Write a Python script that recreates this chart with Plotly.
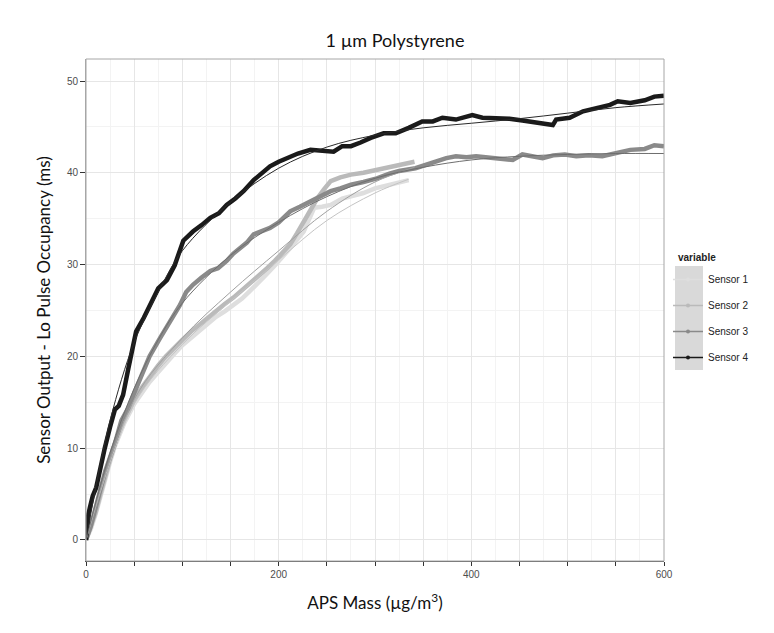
import plotly.graph_objects as go

# ---- data ----
s1_x = [0, 5, 10, 15, 20, 25, 30, 35, 40, 44, 50, 58, 66, 75, 83, 92, 100, 109, 118, 127, 135, 144,
        153, 162, 170, 179, 188, 196, 204, 212, 219, 226, 231, 237, 245, 254, 266, 275, 288, 300,
        312, 325, 335]
s1_y = [0, 1.2, 2.8, 4.8, 6.8, 8.5, 10.2, 11.6, 12.8, 13.6, 14.8, 16.0, 17.2, 18.3, 19.3, 20.3,
        21.2, 22.0, 22.8, 23.6, 24.3, 24.9, 25.6, 26.3, 27.1, 28.0, 29.0, 29.9, 30.8, 31.8, 32.7,
        33.6, 34.8, 36.2, 36.3, 36.5, 37.2, 37.4, 37.8, 38.3, 38.6, 38.9, 39.2]

s2_x = [0, 5, 10, 15, 20, 25, 30, 35, 40, 44, 50, 58, 66, 75, 83, 92, 100, 109, 118, 127, 135, 144,
        153, 162, 170, 179, 188, 196, 204, 212, 219, 226, 233, 240, 247, 254, 264, 275, 288, 302,
        315, 325, 335, 341]
s2_y = [0, 1.5, 3.0, 5.0, 7.0, 8.8, 10.5, 12.0, 13.2, 14.0, 15.3, 16.6, 17.8, 19.0, 20.0, 21.0,
        21.8, 22.7, 23.5, 24.3, 25.0, 25.7, 26.4, 27.2, 28.0, 28.8, 29.6, 30.4, 31.3, 32.2, 33.4,
        34.7, 36.0, 37.2, 38.2, 39.1, 39.5, 39.8, 40.0, 40.3, 40.6, 40.8, 41.0, 41.2]

s3_x = [0, 5, 10, 15, 20, 25, 30, 36.7, 44, 50, 58, 66, 77, 87, 97.6, 104, 111, 120, 129, 137, 146,
        153, 160, 167, 174, 182, 191, 200, 212, 222, 233, 243, 254, 264, 275, 288, 302, 315, 325,
        342, 353, 363, 374, 384, 395, 405, 415, 426, 435, 443, 453, 463, 474, 485, 497, 509, 522,
        536, 545, 552, 565, 580, 590, 600]
s3_y = [0, 1.5, 3.5, 5.5, 7.5, 9.0, 10.5, 13.0, 14.4, 16.0, 18.0, 20.0, 22.0, 23.8, 25.6, 27.0,
        27.8, 28.6, 29.3, 29.6, 30.4, 31.2, 31.8, 32.4, 33.3, 33.6, 34.0, 34.6, 35.8, 36.3, 36.9,
        37.4, 38.0, 38.3, 38.7, 39.0, 39.4, 39.9, 40.2, 40.5, 40.9, 41.3, 41.6, 41.8, 41.7, 41.8,
        41.7, 41.6, 41.5, 41.4, 42.0, 41.8, 41.6, 41.9, 42.0, 41.8, 41.9, 41.8, 42.0, 42.2, 42.5,
        42.6, 43.0, 42.9]

s4_x = [0, 1, 2.5, 4, 7, 10.6, 15, 19.5, 25, 30, 34, 38.5, 44, 52, 60, 68, 75, 84, 92, 101, 111, 120,
        129, 138, 146, 155, 163.5, 174, 182, 191, 200, 208, 220, 233, 245, 257, 266, 275, 285,
        295.5, 309, 321.5, 335, 349, 360, 370, 384, 401, 411.5, 425.7, 439.6, 453, 474, 484.6,
        488, 502, 516, 530, 544, 552, 565, 580, 590, 600]
s4_y = [0, 1.5, 2.8, 3.5, 4.8, 5.7, 8.0, 10.0, 12.3, 14.2, 14.6, 15.8, 18.7, 22.7, 24.2, 25.8,
        27.4, 28.3, 29.9, 32.6, 33.6, 34.3, 35.1, 35.6, 36.5, 37.2, 38.0, 39.2, 39.9, 40.7, 41.2,
        41.6, 42.1, 42.5, 42.4, 42.3, 42.9, 42.9, 43.3, 43.8, 44.3, 44.3, 44.9, 45.6, 45.6, 46.0,
        45.8, 46.3, 46.0, 46.0, 45.9, 45.7, 45.4, 45.2, 45.8, 46.0, 46.7, 47.0, 47.4, 47.8, 47.6,
        47.9, 48.3, 48.4]

# fitted curves (thin lines)
f1_x = [0, 50, 100, 150, 200, 250, 300, 335]
f1_y = [0, 14.8, 21.3, 26.0, 30.5, 34.8, 37.8, 39.3]
f2_x = [0, 50, 100, 150, 200, 250, 300, 341]
f2_y = [0, 15.3, 22.0, 27.0, 31.5, 35.8, 39.0, 40.6]
f3_x = [0, 25, 50, 75, 100, 150, 200, 250, 300, 350, 400, 450, 500, 550, 600]
f3_y = [0, 9.5, 16.5, 21.8, 25.8, 31.0, 34.6, 37.4, 39.4, 40.6, 41.4, 41.8, 42.0, 42.1, 42.1]
f4_x = [0, 25, 50, 75, 100, 150, 200, 250, 300, 350, 400, 450, 500, 550, 600]
f4_y = [0, 13.0, 21.5, 27.0, 31.5, 36.8, 40.5, 42.8, 44.1, 44.9, 45.4, 45.9, 46.5, 47.1, 47.5]

names = ["Sensor 1", "Sensor 2", "Sensor 3", "Sensor 4"]
colors = ["#dedede", "#bababa", "#8a8a8a", "#1a1a1a"]
fit_colors = ["#c4c4c4", "#a0a0a0", "#6e6e6e", "#2a2a2a"]
series = [(s1_x, s1_y), (s2_x, s2_y), (s3_x, s3_y), (s4_x, s4_y)]
fits = [(f1_x, f1_y), (f2_x, f2_y), (f3_x, f3_y), (f4_x, f4_y)]

x_ticks = list(range(0, 601, 50))
x_labels = [str(v) if v % 200 == 0 else "" for v in x_ticks]

fig = go.Figure()
for i, (name, (xs, ys)) in enumerate(zip(names, series)):
    fig.add_trace(go.Scatter(
        x=xs, y=ys, name=name, mode="lines",
        line=dict(color=colors[i], width=4.5),
        legendgroup=name, showlegend=False,
    ))
for i, (name, (xs, ys)) in enumerate(zip(names, fits)):
    fig.add_trace(go.Scatter(
        x=xs, y=ys, mode="lines", line=dict(color=fit_colors[i], width=1, shape="spline"),
        legendgroup=name, showlegend=False, hoverinfo="skip",
    ))
# legend keys: thin line with a point, as in the original
for i, name in enumerate(names):
    fig.add_trace(go.Scatter(
        x=[None], y=[None], name=name, mode="lines+markers",
        line=dict(color=colors[i], width=1.5), marker=dict(color=colors[i], size=4),
        legendgroup=name,
    ))

tick_font = dict(family="Liberation Sans, Arial", size=10, color="#4d4d4d")
title_font = dict(family="Lato, Open Sans", size=17, color="#111111")

fig.update_layout(
    width=774, height=633,
    margin=dict(l=78, r=118, t=51, b=80),
    paper_bgcolor="white", plot_bgcolor="white",
    title=dict(text="1 µm Polystyrene", x=(387 / 774), xanchor="center", y=1 - 33 / 633,
               yanchor="middle", font=dict(family="Lato, Open Sans", size=18, color="#111111")),
    legend=dict(
        font=dict(family="Liberation Sans, Arial", size=10, color="#222222"),
        x=(660 - 78) / 578, xanchor="left", y=(553 - 257) / 502, yanchor="top",
        bgcolor="rgba(0,0,0,0)", borderwidth=0, itemwidth=30, tracegroupgap=7,
    ),
    annotations=[
        dict(text="<b>variable</b>", xref="paper", yref="paper", x=(668 - 78) / 578,
             y=(553 - 249) / 502, xanchor="left", yanchor="middle", showarrow=False,
             font=dict(family="Liberation Sans, Arial", size=10, color="#222222")),
    ],
    shapes=[
        dict(type="rect", xref="paper", yref="paper", x0=(667 - 78) / 578, x1=(695 - 78) / 578,
             y0=(553 - 362) / 502, y1=(553 - 258) / 502, fillcolor="#d9d9d9",
             line=dict(width=0), layer="below"),
        dict(type="rect", xref="paper", yref="paper", x0=0, x1=1, y0=0, y1=1,
             line=dict(color="#a6a6a6", width=1), layer="above"),
    ],
)

fig.update_xaxes(
    range=[0, 600], tickmode="array", tickvals=x_ticks, ticktext=x_labels,
    ticks="outside", ticklen=4, tickcolor="#333333", tickfont=tick_font,
    showgrid=True, gridcolor="#e6e6e6", gridwidth=1,
    minor=dict(tickvals=list(range(25, 600, 50)), showgrid=True, gridcolor="#f3f3f3", ticks=""),
    showline=True, linecolor="#555555", linewidth=1, zeroline=False,
    title=dict(text="APS Mass (µg/m<sup>3</sup>)", font=title_font, standoff=18),
)
fig.update_yaxes(
    range=[-2.3, 52.4], tickmode="array", tickvals=[0, 10, 20, 30, 40, 50],
    ticks="outside", ticklen=5, tickcolor="#333333", tickfont=tick_font,
    showgrid=True, gridcolor="#e6e6e6", gridwidth=1,
    minor=dict(tickvals=[5, 15, 25, 35, 45], showgrid=True, gridcolor="#f3f3f3", ticks=""),
    showline=True, linecolor="#a6a6a6", linewidth=1, zeroline=False,
    title=dict(text="Sensor Output - Lo Pulse Occupancy (ms)", font=title_font, standoff=11),
)

fig.write_html("out.html")
